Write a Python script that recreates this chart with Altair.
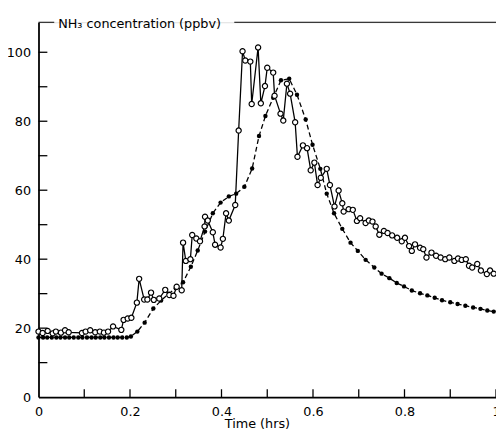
import altair as alt
import pandas as pd

# Observed NH3 (open circles, solid line)
obs_t = [0.000, 0.009, 0.020, 0.031, 0.038, 0.049, 0.058, 0.066, 0.095, 0.103,
         0.113, 0.124, 0.134, 0.143, 0.152, 0.163, 0.181, 0.186, 0.195, 0.203,
         0.215, 0.220, 0.231, 0.238, 0.246, 0.252, 0.264, 0.277, 0.286, 0.295,
         0.302, 0.313, 0.316, 0.322, 0.332, 0.336, 0.345, 0.353, 0.363, 0.364,
         0.370, 0.381, 0.386, 0.398, 0.403, 0.410, 0.416, 0.430, 0.4375, 0.446,
         0.452, 0.463, 0.466, 0.480, 0.486, 0.495, 0.500, 0.513, 0.516, 0.529,
         0.535, 0.543, 0.550, 0.561, 0.566, 0.578, 0.587, 0.595, 0.603, 0.610,
         0.617, 0.630, 0.637, 0.647, 0.656, 0.664, 0.667, 0.678, 0.687, 0.696,
         0.703, 0.715, 0.722, 0.730, 0.737, 0.745, 0.755, 0.763, 0.773, 0.784,
         0.794, 0.801, 0.810, 0.816, 0.823, 0.834, 0.841, 0.848, 0.859, 0.869,
         0.879, 0.889, 0.898, 0.909, 0.917, 0.925, 0.934, 0.941, 0.948, 0.959,
         0.967, 0.980, 0.987, 0.995]
obs_v = [19.0, 18.6, 19.2, 18.5, 19.0, 18.7, 19.4, 18.8, 18.6, 19.0,
         19.4, 18.8, 19.0, 18.7, 19.0, 20.5, 19.5, 22.4, 22.8, 23.0,
         27.4, 34.3, 28.3, 28.3, 30.3, 28.2, 28.6, 31.1, 29.6, 29.4,
         32.0, 31.0, 44.8, 39.5, 40.0, 47.0, 46.0, 45.2, 49.5, 52.3,
         51.2, 47.8, 44.2, 43.4, 45.9, 53.3, 51.2, 55.7, 77.3, 100.3,
         97.6, 97.3, 85.0, 101.4, 85.2, 90.2, 95.5, 94.1, 87.4, 82.2,
         80.2, 90.9, 88.0, 79.7, 69.7, 73.0, 72.2, 65.8, 68.0, 61.5,
         63.6, 66.2, 61.5, 55.3, 59.9, 56.2, 53.8, 54.5, 54.3, 51.1,
         51.9, 50.5, 51.2, 50.9, 49.5, 47.1, 48.2, 47.6, 46.9, 46.2,
         45.2, 46.2, 43.8, 42.4, 44.3, 43.3, 42.9, 40.5, 41.9, 41.0,
         40.5, 40.0, 40.5, 39.5, 40.2, 39.8, 40.0, 38.1, 37.6, 38.6,
         36.7, 35.7, 36.7, 35.8]

# Modelled NH3 (filled circles, dashed line)
mod_t = [0.000, 0.010, 0.019, 0.029, 0.039, 0.048, 0.058, 0.067, 0.077, 0.087,
         0.096, 0.106, 0.116, 0.125, 0.135, 0.144, 0.154, 0.164, 0.173, 0.183,
         0.193, 0.202, 0.216, 0.232, 0.251, 0.268, 0.285, 0.300, 0.316, 0.333,
         0.348, 0.364, 0.381, 0.398, 0.416, 0.432, 0.450, 0.467, 0.482, 0.496,
         0.513, 0.530, 0.548, 0.565, 0.584, 0.599, 0.616, 0.630, 0.646, 0.664,
         0.682, 0.698, 0.715, 0.734, 0.750, 0.767, 0.783, 0.799, 0.816, 0.834,
         0.850, 0.866, 0.882, 0.900, 0.916, 0.933, 0.950, 0.966, 0.981, 0.995]
mod_v = [17.3, 17.3, 17.3, 17.3, 17.3, 17.3, 17.3, 17.3, 17.3, 17.3,
         17.3, 17.3, 17.3, 17.3, 17.3, 17.3, 17.3, 17.3, 17.3, 17.3,
         17.3, 17.6, 19.0, 21.6, 25.7, 28.0, 30.0, 31.6, 33.3, 37.8,
         42.5, 48.0, 53.3, 56.4, 58.2, 59.0, 61.0, 66.3, 75.7, 81.5,
         86.8, 91.9, 92.3, 87.7, 80.5, 73.2, 66.2, 59.0, 53.3, 48.8,
         44.8, 42.4, 39.8, 37.6, 35.8, 34.5, 33.1, 32.1, 30.9, 30.1,
         29.5, 28.8, 28.1, 27.5, 27.0, 26.5, 26.0, 25.6, 25.1, 24.8]

x_label_values = [0, 0.2, 0.4, 0.6, 0.8, 1.0]
x_tick_values = [0.1, 0.2, 0.3, 0.4, 0.5, 0.6, 0.7, 0.8, 0.9, 1.0]
y_label_values = [0, 20, 40, 60, 80, 100]
y_tick_values = [10, 20, 30, 40, 50, 60, 70, 80, 90, 100]
x_title = "Time (hrs)"
y_title = "NH\u2083 concentration (ppbv)"

FONT = "DejaVu Sans"
W, H = 465, 381

obs = pd.DataFrame({"t": obs_t, "v": obs_v})
mod = pd.DataFrame({"t": mod_t, "v": mod_v})

xs = alt.Scale(domain=[0, 1.0], nice=False)
ys = alt.Scale(domain=[0, 108.7], nice=False)

x_enc = alt.X("t:Q", scale=xs, axis=alt.Axis(
    values=x_label_values, ticks=False, tickSize=0, grid=False,
    labelExpr="datum.value == 0 ? '0' : datum.value == 1 ? '1' : format(datum.value, '.1f')",
    labelPadding=9, labelFont=FONT, labelFontSize=13, labelColor="black",
    domainColor="black", domainWidth=1.8,
    title=x_title, titleFont=FONT, titleFontSize=13, titleFontWeight="normal",
    titleColor="black", titleX=222, titleY=21, titleBaseline="top",
    labelFlush=False, labelOverlap=False))
y_enc = alt.Y("v:Q", scale=ys, axis=alt.Axis(
    values=y_label_values, ticks=False, tickSize=0, grid=False,
    labelPadding=8, labelFont=FONT, labelFontSize=13, labelColor="black",
    domainColor="black", domainWidth=1.8, title=None,
    labelFlush=False, labelOverlap=False))

mod_line = alt.Chart(mod).mark_line(color="black", strokeWidth=1.3, strokeDash=[5, 3]).encode(x=x_enc, y=y_enc)
mod_pts = alt.Chart(mod).mark_circle(color="black", size=20, opacity=1).encode(x="t:Q", y="v:Q")
obs_line = alt.Chart(obs).mark_line(color="black", strokeWidth=1.3).encode(x="t:Q", y="v:Q")
obs_pts = alt.Chart(obs).mark_point(shape="circle", filled=True, fill="white", stroke="black",
                                    strokeWidth=1.2, size=28, opacity=1).encode(x="t:Q", y="v:Q")

ytk = alt.Chart(pd.DataFrame({"v": y_tick_values})).mark_rule(color="black", strokeWidth=1.3).encode(
    y="v:Q", x=alt.value(0), x2=alt.value(9))
xtk = alt.Chart(pd.DataFrame({"t": x_tick_values})).mark_rule(color="black", strokeWidth=1.3).encode(
    x="t:Q", y=alt.value(H), y2=alt.value(H - 8))

top1 = alt.Chart(pd.DataFrame({"a": [0]})).mark_rule(color="black", strokeWidth=1).encode(
    x=alt.value(0), x2=alt.value(16), y=alt.value(0))
top2 = alt.Chart(pd.DataFrame({"a": [0]})).mark_rule(color="black", strokeWidth=1).encode(
    x=alt.value(199), x2=alt.value(W), y=alt.value(0))
ttl = alt.Chart(pd.DataFrame({"label": [y_title]})).mark_text(
    font=FONT, fontSize=13, align="left", baseline="middle", color="black").encode(
    x=alt.value(20), y=alt.value(2), text="label:N")

chart = alt.layer(mod_line, mod_pts, obs_line, obs_pts, ytk, xtk, top1, top2, ttl).properties(
    width=W, height=H,
    autosize=alt.AutoSizeParams(type="none"),
    padding={"left": 31, "top": 11, "right": 0, "bottom": 35},
).configure_view(stroke=None).configure(background="white")

chart.save("out.html", embed_options={"renderer": "svg", "actions": False})
